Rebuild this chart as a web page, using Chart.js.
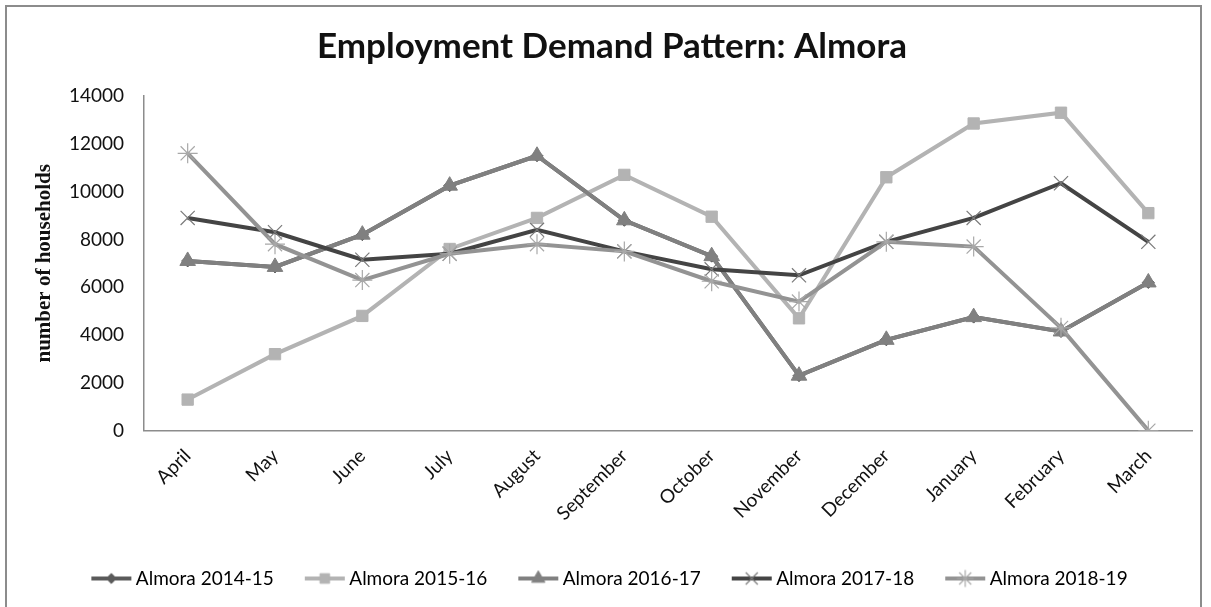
<!DOCTYPE html>
<html>
<head>
<meta charset="utf-8">
<script src="https://cdn.jsdelivr.net/npm/chart.js@4/dist/chart.umd.min.js"></script>
<style>
  html, body { margin: 0; padding: 0; background: #fff; overflow: hidden; }
  #frame { position: absolute; left: 5px; top: 5px; width: 1197px; height: 640px; border: 2px solid #8c8c8c; box-sizing: border-box; }
  #wrap { position: absolute; left: 0; top: 0; width: 1211px; height: 607px; }
</style>
</head>
<body>
<div id="frame"></div>
<div id="wrap"><canvas id="demandChart" width="1211" height="607"></canvas></div>
<script>
(function(){
  const months = ['April', 'May', 'June', 'July', 'August', 'September', 'October', 'November', 'December', 'January', 'February', 'March'];
  const yTicks = [0, 2000, 4000, 6000, 8000, 10000, 12000, 14000];

  const almora1415 = [7100, 6850, 8200, 10250, 11500, 8800, 7300, 2300, 3800, 4750, 4150, 6200];
  const almora1516 = [1300, 3200, 4800, 7600, 8900, 10700, 8950, 4700, 10600, 12850, 13300, 9100];
  const almora1617 = [7100, 6850, 8200, 10250, 11500, 8800, 7300, 2300, 3800, 4750, 4150, 6200];
  const almora1718 = [8900, 8300, 7150, 7400, 8400, 7500, 6750, 6500, 7900, 8900, 10350, 7900];
  const almora1819 = [11600, 7800, 6300, 7400, 7800, 7500, 6250, 5400, 7900, 7700, 4300, 0];

  const seriesNames = ['Almora 2014-15', 'Almora 2015-16', 'Almora 2016-17', 'Almora 2017-18', 'Almora 2018-19'];

  // grayscale look of the original
  const styles = [
    { color: '#5a5a5a', point: 'rectRot', radius: 6, pw: 1 },
    { color: '#b3b3b3', point: 'rect', radius: 8, pw: 1 },
    { color: '#808080', point: 'triangle', radius: 9, pw: 1 },
    { color: '#444444', point: 'crossRot', radius: 10, pw: 1.2, pointColor: '#7a7a7a' },
    { color: '#939393', point: 'star', radius: 10, pw: 1.2, pointColor: '#a8a8a8' }
  ];

  const values = [almora1415, almora1516, almora1617, almora1718, almora1819];

  // small canvas holding line + marker, used as the legend symbol
  function legendIcon(st){
    const c = document.createElement('canvas');
    c.width = 44; c.height = 20;
    const g = c.getContext('2d');
    g.strokeStyle = st.color;
    g.lineWidth = 4;
    g.beginPath(); g.moveTo(2, 10); g.lineTo(42, 10); g.stroke();
    g.fillStyle = st.pointColor || st.color;
    g.strokeStyle = st.pointColor || st.color;
    g.lineWidth = st.pw;
    Chart.helpers.drawPoint(g, { pointStyle: st.point, radius: st.radius * 0.85, borderWidth: st.pw }, 22, 10);
    return c;
  }

  const datasets = values.map((v, i) => {
    const st = styles[i];
    return {
      label: seriesNames[i],
      data: v,
      borderColor: st.color,
      backgroundColor: st.pointColor || st.color,
      borderWidth: 4,
      pointStyle: st.point,
      pointRadius: st.radius,
      pointBorderWidth: st.pw,
      pointBorderColor: st.pointColor || st.color,
      pointBackgroundColor: st.pointColor || st.color,
      tension: 0,
      order: 4 - i
    };
  });

  const ctx = document.getElementById('demandChart');
  new Chart(ctx, {
    type: 'line',
    data: { labels: months, datasets },
    options: {
      responsive: false,
      animation: false,
      layout: { padding: { left: 32, right: 19, top: 0, bottom: 9 } },
      plugins: {
        title: {
          display: true,
          text: 'Employment Demand Pattern: Almora',
          color: '#111',
          font: { family: 'Lato', size: 35, weight: 'bold' },
          padding: { top: 26, bottom: 28 }
        },
        legend: {
          position: 'bottom',
          labels: {
            usePointStyle: true,
            pointStyleWidth: 30,
            boxHeight: 19,
            padding: 36,
            color: '#111',
            font: { family: 'Lato', size: 19 },
            generateLabels: (chart) => chart.data.datasets.map((ds, i) => ({
              text: ds.label,
              pointStyle: legendIcon(styles[i]),
              fillStyle: styles[i].color,
              strokeStyle: styles[i].color,
              lineWidth: 0,
              hidden: false,
              datasetIndex: i
            }))
          }
        },
        tooltip: { enabled: false }
      },
      scales: {
        x: {
          offset: true,
          grid: { display: false, offset: true },
          border: { display: true, color: '#8c8c8c', width: 1.5 },
          afterFit: (s) => { s.height += 2; },
          ticks: {
            maxRotation: 45,
            minRotation: 45,
            color: '#111',
            padding: 6,
            font: { family: 'Lato', size: 19 }
          }
        },
        y: {
          min: 0,
          max: 14000,
          afterBuildTicks: (scale) => { scale.ticks = yTicks.map(v => ({ value: v })); },
          afterFit: (s) => { s.width = 112; },
          grid: { display: false },
          border: { display: true, color: '#8c8c8c', width: 1.5 },
          title: {
            display: true,
            text: 'number of households',
            color: '#111',
            font: { family: 'Liberation Serif', size: 21, weight: 'bold' },
            padding: { top: 0, bottom: 0 }
          },
          ticks: {
            color: '#111',
            padding: 12,
            font: { family: 'Lato', size: 19 },
            callback: (v) => String(v)
          }
        }
      }
    }
  });
})();
</script>
</body>
</html>
